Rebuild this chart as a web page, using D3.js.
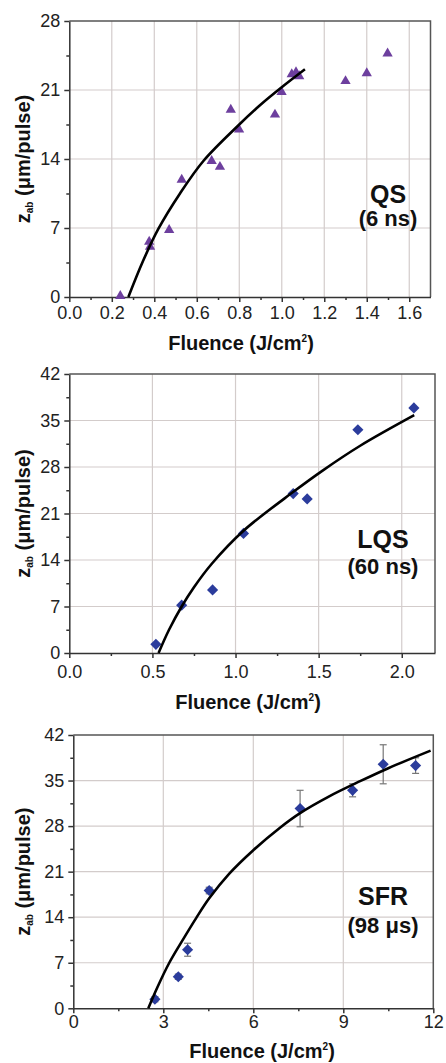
<!DOCTYPE html>
<html>
<head>
<meta charset="utf-8">
<script src="https://cdn.jsdelivr.net/npm/d3@7"></script>
<style>
  body { margin: 0; background: #fff; }
  svg { display: block; font-family: "Liberation Sans", Arial, sans-serif; }
</style>
</head>
<body>
<svg></svg>
<script>
var width = 446;
var height = 1063;

// QS (6 ns) - triangles
var qsFluence = [0.24, 0.376, 0.38, 0.47, 0.529, 0.67, 0.709, 0.76, 0.799, 0.968, 0.999, 1.047, 1.067, 1.082, 1.30, 1.40, 1.498];
var qsDepth   = [0.1, 5.6, 5.1, 6.8, 11.9, 13.8, 13.2, 19.0, 17.0, 18.5, 20.8, 22.6, 22.8, 22.4, 21.9, 22.7, 24.7];
var qsFitF = [0.278, 0.348, 0.419, 0.521, 0.631, 0.8, 0.9, 1.007, 1.109];
var qsFitZ = [0, 3.7, 6.9, 10.5, 13.8, 17.5, 19.5, 21.4, 23.1];

// LQS (60 ns) - diamonds
var lqsFluence = [0.521, 0.676, 0.862, 1.048, 1.347, 1.431, 1.736, 2.073];
var lqsDepth   = [1.3, 7.2, 9.5, 18.0, 24.0, 23.2, 33.6, 36.9];
var lqsFitF = [0.537, 0.6, 0.676, 0.75, 0.856, 1.048, 1.35, 1.526, 1.75, 2.075];
var lqsFitZ = [0, 3.5, 7.0, 9.9, 13.4, 18.4, 24.3, 27.5, 31.2, 35.8];

// SFR (98 us) - diamonds with error bars
var sfrFluence = [2.72, 3.5, 3.81, 4.53, 7.56, 9.31, 10.33, 11.41];
var sfrDepth   = [1.4, 4.85, 9.0, 18.1, 30.7, 33.5, 37.5, 37.3];
var sfrError   = [0.4, 0.4, 1.0, 0.5, 2.8, 1.0, 3.0, 1.2];
var sfrFitF = [2.5, 2.8, 3.2, 3.7, 4.1, 4.53, 5.2, 6, 6.9, 7.56, 8.5, 9.56, 10.5, 11.91];
var sfrFitZ = [0, 3.2, 7, 10.9, 13.9, 16.9, 20.7, 24.3, 27.8, 30.0, 32.5, 34.9, 36.9, 39.6];

// tick labels
var yTicks = [0, 7, 14, 21, 28, 35, 42];
var qsXTicks = [0, 0.2, 0.4, 0.6, 0.8, 1.0, 1.2, 1.4, 1.6];
var lqsXTicks = [0, 0.5, 1.0, 1.5, 2.0];
var sfrXTicks = [0, 3, 6, 9, 12];

var svg = d3.select('svg')
            .attr('width', width)
            .attr('height', height);

var panels = [
  {xs: qsFluence, ys: qsDepth, fx: qsFitF, fz: qsFitZ, err: null, marker: 'tri',
   xMax: 1.7, yMax: 28, xTicks: qsXTicks, xMinor: 0.1, fmt: d3.format('.1f'),
   left: 69.3, right: 430.5, top: 21, bottom: 297, pad: 4,
   name: 'QS', sub: '(6 ns)', lx: 388, ly: 203, sy: 226, tx: 241, ty: 350},
  {xs: lqsFluence, ys: lqsDepth, fx: lqsFitF, fz: lqsFitZ, err: null, marker: 'dia',
   xMax: 2.2, yMax: 42, xTicks: lqsXTicks, xMinor: 0.25, fmt: d3.format('.1f'),
   left: 69.3, right: 435, top: 374, bottom: 653, pad: 7,
   name: 'LQS', sub: '(60 ns)', lx: 383, ly: 548, sy: 574, tx: 248, ty: 709},
  {xs: sfrFluence, ys: sfrDepth, fx: sfrFitF, fz: sfrFitZ, err: sfrError, marker: 'dia',
   xMax: 12, yMax: 42, xTicks: sfrXTicks, xMinor: 1.5, fmt: d3.format('d'),
   left: 73.3, right: 433.3, top: 735, bottom: 1008.3, pad: 2,
   name: 'SFR', sub: '(98 μs)', lx: 383, ly: 905, sy: 933, tx: 262, ty: 1058}
];

panels.forEach(drawPanel);

function drawPanel(p) {
  var x = d3.scaleLinear().domain([0, p.xMax]).range([p.left, p.right]);
  var y = d3.scaleLinear().domain([0, p.yMax]).range([p.bottom, p.top]);
  var yt = yTicks.filter(d => d <= p.yMax);
  var g = svg.append('g');

  // grid
  g.selectAll('.vgrid')
    .data(p.xTicks.filter(d => d > 0 && d < p.xMax))
    .enter().append('line')
      .attr('x1', d => x(d)).attr('x2', d => x(d))
      .attr('y1', p.top).attr('y2', p.bottom)
      .attr('stroke', '#d3cccb').attr('stroke-width', 1.2);
  g.selectAll('.hgrid')
    .data(yt.filter(d => d > 0 && d < p.yMax))
    .enter().append('line')
      .attr('x1', p.left).attr('x2', p.right)
      .attr('y1', d => y(d)).attr('y2', d => y(d))
      .attr('stroke', '#d3cccb').attr('stroke-width', 1.2);

  // top / right frame
  g.append('path')
    .attr('d', `M${p.left},${p.top}H${p.right}V${p.bottom}`)
    .attr('fill', 'none')
    .attr('stroke', '#555')
    .attr('stroke-width', 1.5);

  // minor ticks
  var xMinor = d3.range(p.xMinor, p.xMax, p.xMinor * 2);
  var yMinor = d3.range(3.5, p.yMax, 7);
  g.append('g')
    .attr('transform', `translate(0,${p.bottom})`)
    .call(d3.axisBottom(x).tickValues(xMinor).tickSize(3).tickFormat(''))
    .call(s => s.select('.domain').remove());
  g.append('g')
    .attr('transform', `translate(${p.left},0)`)
    .call(d3.axisLeft(y).tickValues(yMinor).tickSize(3).tickFormat(''))
    .call(s => s.select('.domain').remove());

  // main axes
  g.append('g')
    .attr('transform', `translate(0,${p.bottom})`)
    .call(d3.axisBottom(x).tickValues(p.xTicks).tickSize(5).tickSizeOuter(0)
            .tickPadding(p.pad).tickFormat(p.fmt));
  g.append('g')
    .attr('transform', `translate(${p.left},0)`)
    .call(d3.axisLeft(y).tickValues(yt).tickSize(5).tickSizeOuter(0).tickPadding(4));
  g.selectAll('.tick line, .domain')
    .attr('stroke', '#333')
    .attr('stroke-width', 1.5);
  g.selectAll('.tick text')
    .attr('fill', '#222')
    .style('font-size', '18px')
    .style('font-family', '"Liberation Sans", Arial, sans-serif');

  // error bars
  if (p.err) {
    var eb = g.selectAll('.err')
      .data(p.xs.map((d, i) => ({f: d, z: p.ys[i], e: p.err[i]})))
      .enter().append('g')
        .attr('stroke', '#777').attr('stroke-width', 1.2);
    eb.append('line')
      .attr('x1', d => x(d.f)).attr('x2', d => x(d.f))
      .attr('y1', d => y(d.z - d.e)).attr('y2', d => y(d.z + d.e));
    eb.append('line')
      .attr('x1', d => x(d.f) - 3.5).attr('x2', d => x(d.f) + 3.5)
      .attr('y1', d => y(d.z + d.e)).attr('y2', d => y(d.z + d.e));
    eb.append('line')
      .attr('x1', d => x(d.f) - 3.5).attr('x2', d => x(d.f) + 3.5)
      .attr('y1', d => y(d.z - d.e)).attr('y2', d => y(d.z - d.e));
  }

  // markers
  var sym = p.marker === 'tri'
    ? d3.symbol().type(d3.symbolTriangle).size(46)
    : d3.symbol().type(d3.symbolSquare).size(62);
  g.selectAll('.pt')
    .data(p.xs.map((d, i) => [d, p.ys[i]]))
    .enter().append('path')
      .attr('d', sym)
      .attr('transform', d => `translate(${x(d[0])},${y(d[1])})` + (p.marker === 'dia' ? ' rotate(45)' : ''))
      .attr('fill', p.marker === 'tri' ? '#6d3f9e' : '#2b3c9c');

  // fit curve
  var line = d3.line()
               .x(d => x(d[0]))
               .y(d => y(d[1]))
               .curve(d3.curveCatmullRom.alpha(0.5));
  g.append('path')
    .datum(p.fx.map((d, i) => [d, p.fz[i]]))
    .attr('d', line)
    .attr('fill', 'none')
    .attr('stroke', '#000')
    .attr('stroke-width', 2.6);

  // series label
  g.append('text')
    .attr('x', p.lx).attr('y', p.ly)
    .attr('text-anchor', 'middle')
    .style('font-size', '25px').style('font-weight', 'bold')
    .attr('fill', '#111')
    .text(p.name);
  g.append('text')
    .attr('x', p.lx).attr('y', p.sy)
    .attr('text-anchor', 'middle')
    .style('font-size', '22px').style('font-weight', 'bold')
    .attr('fill', '#111')
    .text(p.sub);

  // x title
  var xt = g.append('text')
    .attr('x', p.tx).attr('y', p.ty)
    .attr('text-anchor', 'middle')
    .style('font-size', '20px').style('font-weight', 'bold')
    .attr('fill', '#111');
  xt.append('tspan').text('Fluence (J/cm');
  xt.append('tspan').attr('dy', -8).style('font-size', '10px').text('2');
  xt.append('tspan').attr('dy', 8).text(')');

  // y title
  var ytt = g.append('text')
    .attr('transform', `translate(30,${(p.top + p.bottom) / 2}) rotate(-90)`)
    .attr('text-anchor', 'middle')
    .style('font-size', '20px').style('font-weight', 'bold')
    .attr('fill', '#111');
  ytt.append('tspan').text('z');
  ytt.append('tspan').attr('dy', 3).style('font-size', '10px').text('ab');
  ytt.append('tspan').attr('dy', -3).text(' (μm/pulse)');
}
</script>
</body>
</html>
